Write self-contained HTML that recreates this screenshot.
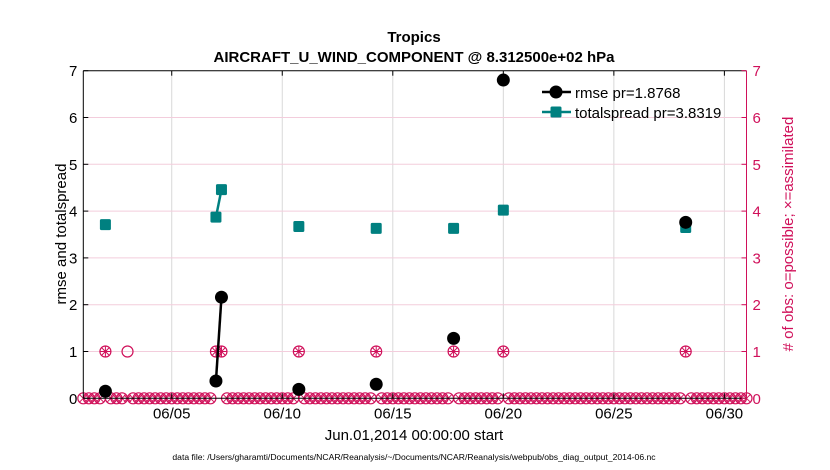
<!DOCTYPE html>
<html><head><meta charset="utf-8"><style>
html,body{margin:0;padding:0;background:#fff;}
svg{display:block;font-family:"Liberation Sans",sans-serif;}
</style></head><body>
<svg id="chart" width="830" height="470" viewBox="0 0 830 470">
<rect width="830" height="470" fill="#fff"/>
<g id="grid"></g>
<g id="obs"></g>
<g id="series"></g>
<g id="axes"></g>
<text x="414" y="42" text-anchor="middle" font-size="15" font-weight="bold">Tropics</text>
<text x="414" y="62" text-anchor="middle" font-size="15" font-weight="bold">AIRCRAFT_U_WIND_COMPONENT @ 8.312500e+02 hPa</text>
<text transform="translate(66,234) rotate(-90)" text-anchor="middle" font-size="15">rmse and totalspread</text>
<text transform="translate(793,234) rotate(-90)" text-anchor="middle" font-size="15" fill="#d0105a"># of obs: o=possible; ×=assimilated</text>
<text x="414" y="440" text-anchor="middle" font-size="15">Jun.01,2014 00:00:00 start</text>
<text x="414" y="460" text-anchor="middle" font-size="8.6">data file: /Users/gharamti/Documents/NCAR/Reanalysis/~/Documents/NCAR/Reanalysis/webpub/obs_diag_output_2014-06.nc</text>
<g>
<line x1="542" y1="92" x2="571" y2="92" stroke="#000" stroke-width="2.5"/>
<circle cx="556" cy="92" r="6.5" fill="#000"/>
<text x="575" y="98" font-size="15">rmse pr=1.8768</text>
<line x1="542" y1="112" x2="571" y2="112" stroke="#008080" stroke-width="2.5"/>
<rect x="550.5" y="106.5" width="11" height="11" rx="1.5" fill="#008080"/>
<text x="575" y="118" font-size="15">totalspread pr=3.8319</text>
</g>
</svg>
<script>
const rmseDays = [1.0, 6.0, 6.25, 9.75, 13.25, 16.75, 19.0, 27.25];
const rmseVals = [0.15, 0.37, 2.16, 0.19, 0.30, 1.28, 6.80, 3.76];
const spreadVals = [3.71, 3.87, 4.46, 3.67, 3.63, 3.63, 4.02, 3.65];
const possibleDays = [1.0, 2.0, 6.0, 6.25, 9.75, 13.25, 16.75, 19.0, 27.25];
const assimDays = [1.0, 6.0, 6.25, 9.75, 13.25, 16.75, 19.0, 27.25];
const xTickDays = [4, 9, 14, 19, 24, 29];
const xTickLabels = ["06/05", "06/10", "06/15", "06/20", "06/25", "06/30"];
const yTicks = [0, 1, 2, 3, 4, 5, 6, 7];

const NS = "http://www.w3.org/2000/svg";
const L = 83.3, R = 746.5, T = 70.7, B = 398.3;
const xS = d => L + (d / 30) * (R - L);
const yS = v => B - (v / 7) * (B - T);
const RED = "#d0105a", TEAL = "#008080";
function mk(tag, attrs, parent) {
  const e = document.createElementNS(NS, tag);
  for (const k in attrs) e.setAttribute(k, attrs[k]);
  document.getElementById(parent).appendChild(e);
  return e;
}
xTickDays.forEach((d, i) => {
  const g = mk("line", {x1: xS(d), x2: xS(d), y1: T, y2: B, stroke: "#d8d8d8", "stroke-width": 1}, "grid");
  
  
});
yTicks.forEach(v => {
  if (v === 0 || v === 7) return;
  const g = mk("line", {x1: L, x2: R, y1: yS(v), y2: yS(v), stroke: "#f3cddc", "stroke-width": 1}, "grid");
  
  
});
const possSet = new Set(possibleDays.map(d => Math.round(d * 4)));
const assimSet = new Set(assimDays.map(d => Math.round(d * 4)));
function circ(x, y) {
  const c = mk("circle", {cx: x, cy: y, r: 5.5, fill: "none", stroke: RED, "stroke-width": 1.2}, "obs");
  
  
}
function xmark(x, y) {
  const p = mk("path", {d: `M${x-3.5},${y-3.5}L${x+3.5},${y+3.5}M${x-3.5},${y+3.5}L${x+3.5},${y-3.5}`, stroke: RED, "stroke-width": 1, fill: "none"}, "obs");
  
  
}
function star(x, y) {
  const p = mk("path", {d: `M${x-3.5},${y-3.5}L${x+3.5},${y+3.5}M${x-3.5},${y+3.5}L${x+3.5},${y-3.5}M${x},${y-5}L${x},${y+5}M${x-5},${y}L${x+5},${y}`, stroke: RED, "stroke-width": 1, fill: "none"}, "obs");
  
  
}
for (let k = 0; k <= 120; k++) {
  const d = k / 4, x = xS(d);
  if (possSet.has(k)) circ(x, yS(1)); else circ(x, yS(0));
  if (assimSet.has(k)) star(x, yS(1)); else xmark(x, yS(0));
}
function segs(vals, color, name) {
  for (let i = 1; i < rmseDays.length; i++) {
    if (Math.abs(rmseDays[i] - rmseDays[i-1] - 0.25) < 1e-6) {
      const l = mk("line", {x1: xS(rmseDays[i-1]), y1: yS(vals[i-1]), x2: xS(rmseDays[i]), y2: yS(vals[i]), stroke: color, "stroke-width": 2.5}, "series");
      
      
    }
  }
}
segs(spreadVals, TEAL, 'totalspread-line');
segs(rmseVals, "#000", 'rmse-line');
spreadVals.forEach((v, i) => {
  const r = mk("rect", {x: xS(rmseDays[i]) - 5.5, y: yS(v) - 5.5, width: 11, height: 11, rx: 1.5, fill: TEAL}, "series");
  
  
});
rmseVals.forEach((v, i) => {
  const c = mk("circle", {cx: xS(rmseDays[i]), cy: yS(v), r: 6.5, fill: "#000"}, "series");
  
  
});
const ax = [
  [L, T, R, T, "#000"], [L, B, R, B, "#000"], [L, T, L, B, "#000"], [R, T, R, B, RED]
];
ax.forEach(a => {
  const l = mk("line", {x1: a[0], y1: a[1], x2: a[2], y2: a[3], stroke: a[4], "stroke-width": 1}, "axes");
  
  
});
xTickDays.forEach((d, i) => {
  const x = xS(d);
  mk("line", {x1: x, x2: x, y1: B, y2: B - 5, stroke: "#000"}, "axes");
  mk("line", {x1: x, x2: x, y1: T, y2: T + 5, stroke: "#000"}, "axes");
  const t = mk("text", {x: x, y: B + 20, "text-anchor": "middle", "font-size": 15}, "axes");
  t.textContent = xTickLabels[i];
  
  
});
yTicks.forEach(v => {
  const y = yS(v);
  mk("line", {x1: L, x2: L + 5, y1: y, y2: y, stroke: "#000"}, "axes");
  mk("line", {x1: R - 5, x2: R, y1: y, y2: y, stroke: RED}, "axes");
  const t = mk("text", {x: L - 6, y: y + 5.5, "text-anchor": "end", "font-size": 15}, "axes");
  t.textContent = v;
  
  
  const t2 = mk("text", {x: R + 6, y: y + 5.5, "text-anchor": "start", "font-size": 15, fill: RED}, "axes");
  t2.textContent = v;
  
  
});
</script>
</body></html>
